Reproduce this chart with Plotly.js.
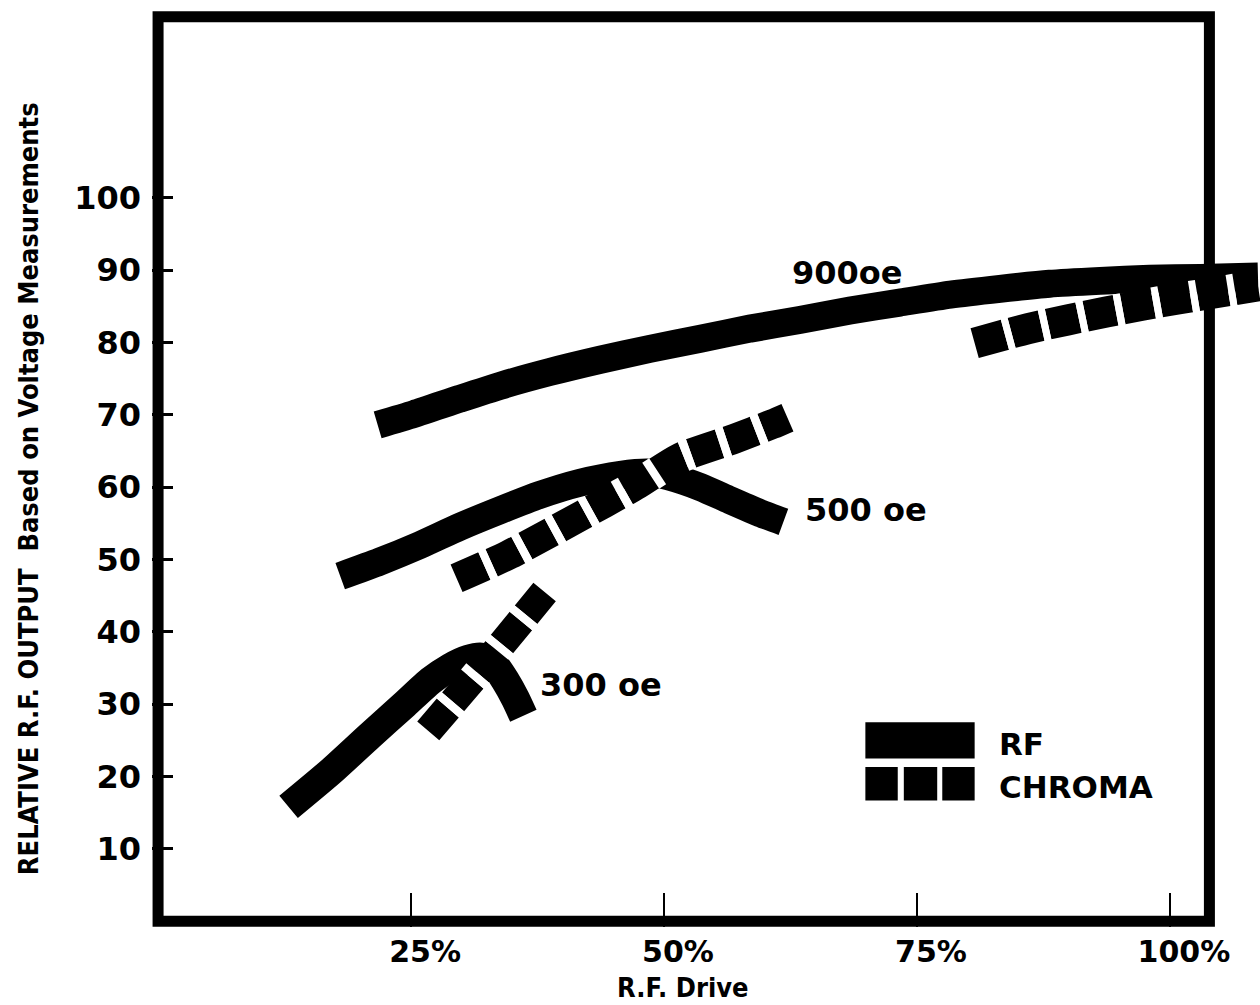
<!DOCTYPE html>
<html>
<head>
<meta charset="utf-8">
<script src="https://cdn.plot.ly/plotly-3.0.1.min.js"></script>
<style>html,body{margin:0;padding:0;background:#fff;}#chart{width:1260px;height:1005px;}</style>
</head>
<body>
<div id="chart"></div>
<script>
// ---- data ----
const rf900X = [21.7, 25.3, 29.8, 33.8, 38.7, 43.7, 48.6, 53.6, 58.5, 63.4, 68.4, 73.3, 78.3, 83.2, 88.1, 93.1, 98.0, 103.0, 108.7];
const rf900Y = [68.6, 70.1, 72.2, 74.0, 75.9, 77.6, 79.1, 80.5, 81.9, 83.1, 84.4, 85.5, 86.6, 87.4, 88.1, 88.5, 88.8, 88.9, 89.1];
const chroma900X = [80.7, 86.0, 93.7, 100.8, 108.7];
const chroma900Y = [79.9, 81.9, 84.2, 86.0, 87.8];

const rf500X = [18.0, 21.9, 25.9, 29.8, 33.8, 37.7, 41.7, 45.7, 48.6, 50.4, 53.6, 56.5, 59.5, 61.8];
const rf500Y = [47.7, 49.7, 52.0, 54.5, 56.8, 58.9, 60.6, 61.7, 62.0, 61.5, 60.0, 58.2, 56.4, 55.2];
const chroma500X = [29.5, 34.6, 44.1, 47.4, 51.5, 57.0, 60.7, 62.2];
const chroma500Y = [47.4, 50.6, 57.8, 60.4, 64.0, 66.7, 68.7, 69.6];

const rf300X = [12.9, 17.0, 20.9, 24.4, 26.9, 28.9, 30.6, 32.0, 33.2, 34.3, 35.3, 36.1];
const rf300Y = [15.8, 20.6, 25.6, 30.0, 33.2, 35.1, 36.2, 36.5, 35.5, 33.3, 30.8, 28.4];
const chroma300X = [26.7, 32.5, 38.2];
const chroma300Y = [26.3, 35.8, 45.5];

const yTickVals = [10, 20, 30, 40, 50, 60, 70, 80, 90, 100];
const yTickText = ['10', '20', '30', '40', '50', '60', '70', '80', '90', '100'];
const xTickVals = [25, 50, 75, 100];
const xTickText = ['25%', '50%', '75%', '100%'];

const curveLabels = ['900oe', '500 oe', '300 oe'];
const legendLabels = ['RF', 'CHROMA'];
const xTitle = 'R.F. Drive';
const yTitle = 'RELATIVE R.F. OUTPUT\u00a0\u00a0Based on Voltage Measurements';

// ---- styles ----
const INK = '#000000';
const geoFont = {family: 'DejaVu Sans, Verdana, sans-serif', size: 32, color: INK, weight: 700};
const narrowFont = {family: 'DejaVu Sans Condensed, Liberation Sans Narrow, DejaVu Sans, sans-serif', size: 27, color: INK, weight: 700};

function rfTrace(x, y, w) {
  return {x: x, y: y, type: 'scatter', mode: 'lines', hoverinfo: 'skip', showlegend: false,
    line: {color: INK, width: w, shape: 'spline', smoothing: 0.6}};
}
function chromaTraces(x, y, w, dash, gap) {
  return [
    {x: x, y: y, type: 'scatter', mode: 'lines', hoverinfo: 'skip', showlegend: false,
      line: {color: INK, width: w, shape: 'spline', smoothing: 0.6, dash: dash + 'px,' + gap + 'px'}},
    {x: x, y: y, type: 'scatter', mode: 'lines', hoverinfo: 'skip', showlegend: false,
      line: {color: '#ffffff', width: w + 1, shape: 'spline', smoothing: 0.6, dash: '0px,' + dash + 'px,' + gap + 'px,0px'}}
  ];
}

const data = [
  rfTrace(rf900X, rf900Y, 28),
  rfTrace(rf500X, rf500Y, 28),
  rfTrace(rf300X, rf300Y, 29),
  ...chromaTraces(chroma900X, chroma900Y, 31, 31, 7),
  ...chromaTraces(chroma500X, chroma500Y, 30, 30, 8),
  ...chromaTraces(chroma300X, chroma300Y, 29, 30, 8)
];

const shapes = [
  // plot frame
  {type: 'rect', xref: 'x', yref: 'y', x0: 0, x1: 103.9, y0: 0, y1: 125,
    line: {color: INK, width: 11}, fillcolor: 'rgba(0,0,0,0)', layer: 'above'},
  // legend swatches
  {type: 'rect', xref: 'x', yref: 'y', x0: 69.9, x1: 80.7, y0: 22.5, y1: 27.5, line: {width: 0}, fillcolor: INK},
  {type: 'rect', xref: 'x', yref: 'y', x0: 69.9, x1: 73.1, y0: 16.7, y1: 21.3, line: {width: 0}, fillcolor: INK},
  {type: 'rect', xref: 'x', yref: 'y', x0: 73.7, x1: 77.0, y0: 16.7, y1: 21.3, line: {width: 0}, fillcolor: INK},
  {type: 'rect', xref: 'x', yref: 'y', x0: 77.5, x1: 80.7, y0: 16.7, y1: 21.3, line: {width: 0}, fillcolor: INK}
];

const annotations = [
  {text: curveLabels[0], xref: 'x', yref: 'y', x: 62.5, y: 89.6, xanchor: 'left', yanchor: 'middle', showarrow: false, font: geoFont},
  {text: curveLabels[1], xref: 'x', yref: 'y', x: 63.7, y: 56.8, xanchor: 'left', yanchor: 'middle', showarrow: false, font: geoFont},
  {text: curveLabels[2], xref: 'x', yref: 'y', x: 37.5, y: 32.6, xanchor: 'left', yanchor: 'middle', showarrow: false, font: geoFont},
  {text: legendLabels[0], xref: 'x', yref: 'y', x: 82.9, y: 24.5, xanchor: 'left', yanchor: 'middle', showarrow: false, font: Object.assign({}, geoFont, {size: 31})},
  {text: legendLabels[1], xref: 'x', yref: 'y', x: 82.9, y: 18.6, xanchor: 'left', yanchor: 'middle', showarrow: false, font: Object.assign({}, geoFont, {size: 31})},
  {text: xTitle, xref: 'paper', yref: 'paper', x: 0.479, y: -0.0852, xanchor: 'center', yanchor: 'bottom', showarrow: false, font: narrowFont},
  {text: yTitle, xref: 'paper', yref: 'paper', x: -0.112, y: 0.479, xanchor: 'center', yanchor: 'middle', textangle: -90, showarrow: false, font: narrowFont}
];

const layout = {
  width: 1260, height: 1005,
  margin: {l: 152, r: 0, t: 11, b: 78, pad: 0},
  paper_bgcolor: '#ffffff', plot_bgcolor: '#ffffff',
  showlegend: false,
  xaxis: {
    range: [-0.6, 108.9], showgrid: false, zeroline: false, showline: false,
    tickmode: 'array', tickvals: xTickVals, ticktext: xTickText,
    ticks: 'inside', ticklen: 34, tickwidth: 2, tickcolor: INK,
    tickfont: Object.assign({}, geoFont, {size: 30}), ticklabelstandoff: 4, ticklabelshift: 14,
    fixedrange: true
  },
  yaxis: {
    range: [-0.8, 125.8], showgrid: false, zeroline: false, showline: false,
    tickmode: 'array', tickvals: yTickVals, ticktext: yTickText,
    ticks: 'inside', ticklen: 21, tickwidth: 3, tickcolor: INK,
    tickfont: geoFont, ticklabelstandoff: 10,
    fixedrange: true
  },
  shapes: shapes,
  annotations: annotations
};

Plotly.newPlot('chart', data, layout, {displayModeBar: false, staticPlot: true});
</script>
</body>
</html>
